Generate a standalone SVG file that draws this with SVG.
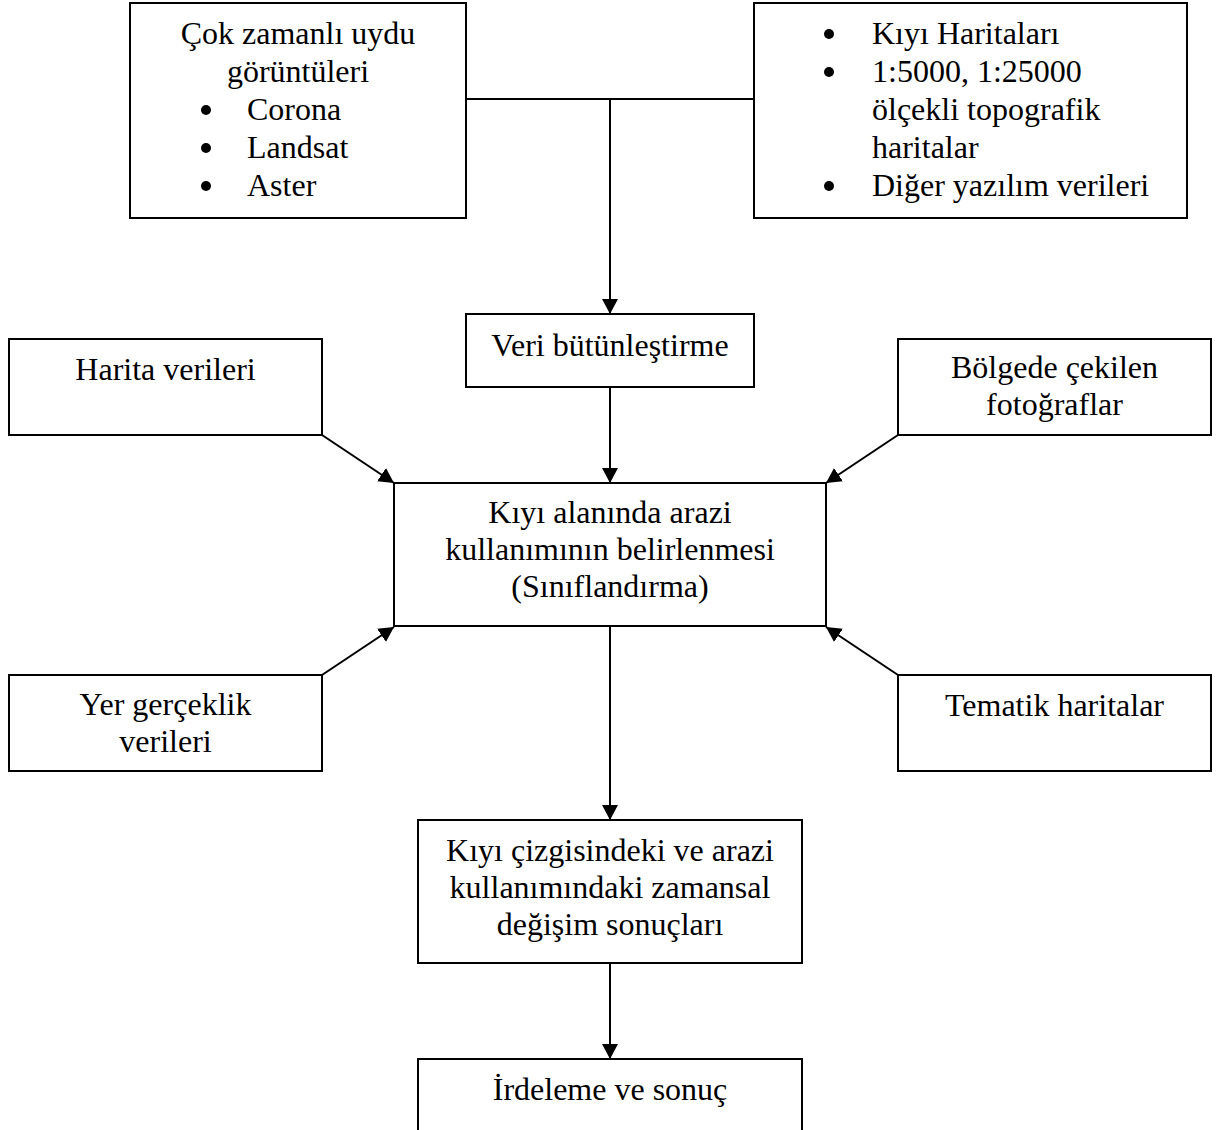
<svg xmlns="http://www.w3.org/2000/svg" width="1220" height="1130" viewBox="0 0 1220 1130">
<style>
.box{fill:#fff;stroke:#000;stroke-width:2}
.t{font-family:"Liberation Serif","Times New Roman",serif;font-size:32px;fill:#000}
.c{text-anchor:middle}
.ln{stroke:#000;stroke-width:2;fill:none}
</style>
<defs>
<marker id="ah" markerUnits="userSpaceOnUse" markerWidth="16" markerHeight="16" refX="15" refY="8" orient="auto">
<path d="M0,0 L15,8 L0,16 z" fill="#000"/>
</marker>
</defs>
<rect width="1220" height="1130" fill="#fff"/>
<g id="connectors">
<line class="ln" x1="466" y1="99" x2="754" y2="99"/>
<line class="ln" x1="610" y1="99" x2="610" y2="314" marker-end="url(#ah)"/>
<line class="ln" x1="610" y1="387" x2="610" y2="483" marker-end="url(#ah)"/>
<line class="ln" x1="322" y1="435" x2="394" y2="483" marker-end="url(#ah)"/>
<line class="ln" x1="898" y1="435" x2="826" y2="483" marker-end="url(#ah)"/>
<line class="ln" x1="322" y1="675" x2="394" y2="627" marker-end="url(#ah)"/>
<line class="ln" x1="898" y1="675" x2="826" y2="627" marker-end="url(#ah)"/>
<line class="ln" x1="610" y1="626" x2="610" y2="820" marker-end="url(#ah)"/>
<line class="ln" x1="610" y1="963" x2="610" y2="1059" marker-end="url(#ah)"/>
</g>
<g id="uydu">
<rect class="box" x="130" y="3" width="336" height="215"/>
<text class="t c" x="298" y="44">Çok zamanlı uydu</text>
<text class="t c" x="298" y="82">görüntüleri</text>
<circle cx="206" cy="110" r="5"/>
<text class="t" x="247" y="120">Corona</text>
<circle cx="206" cy="148" r="5"/>
<text class="t" x="247" y="158">Landsat</text>
<circle cx="206" cy="186" r="5"/>
<text class="t" x="247" y="196">Aster</text>
</g>
<g id="haritalar">
<rect class="box" x="754" y="3" width="433" height="215"/>
<circle cx="829" cy="34" r="5"/>
<text class="t" x="872" y="44">Kıyı Haritaları</text>
<circle cx="829" cy="72" r="5"/>
<text class="t" x="872" y="82">1:5000, 1:25000</text>
<text class="t" x="872" y="120">ölçekli topografik</text>
<text class="t" x="872" y="158">haritalar</text>
<circle cx="829" cy="186" r="5"/>
<text class="t" x="872" y="196">Diğer yazılım verileri</text>
</g>
<g id="veri">
<rect class="box" x="466" y="314" width="288" height="73"/>
<text class="t c" x="610" y="356">Veri bütünleştirme</text>
</g>
<g id="harita-verileri">
<rect class="box" x="9" y="339" width="313" height="96"/>
<text class="t c" x="165.5" y="380">Harita verileri</text>
</g>
<g id="bolgede">
<rect class="box" x="898" y="339" width="313" height="96"/>
<text class="t c" x="1054.5" y="378">Bölgede çekilen</text>
<text class="t c" x="1054.5" y="415">fotoğraflar</text>
</g>
<g id="siniflandirma">
<rect class="box" x="394" y="483" width="432" height="143"/>
<text class="t c" x="610" y="523">Kıyı alanında arazi</text>
<text class="t c" x="610" y="560">kullanımının belirlenmesi</text>
<text class="t c" x="610" y="597">(Sınıflandırma)</text>
</g>
<g id="yer">
<rect class="box" x="9" y="675" width="313" height="96"/>
<text class="t c" x="165.5" y="715">Yer gerçeklik</text>
<text class="t c" x="165.5" y="752">verileri</text>
</g>
<g id="tematik">
<rect class="box" x="898" y="675" width="313" height="96"/>
<text class="t c" x="1054.5" y="716">Tematik haritalar</text>
</g>
<g id="degisim">
<rect class="box" x="418" y="820" width="384" height="143"/>
<text class="t c" x="610" y="861">Kıyı çizgisindeki ve arazi</text>
<text class="t c" x="610" y="898">kullanımındaki zamansal</text>
<text class="t c" x="610" y="935">değişim sonuçları</text>
</g>
<g id="irdeleme">
<rect class="box" x="418" y="1059" width="384" height="90"/>
<text class="t c" x="610" y="1100">İrdeleme ve sonuç</text>
</g>
</svg>
